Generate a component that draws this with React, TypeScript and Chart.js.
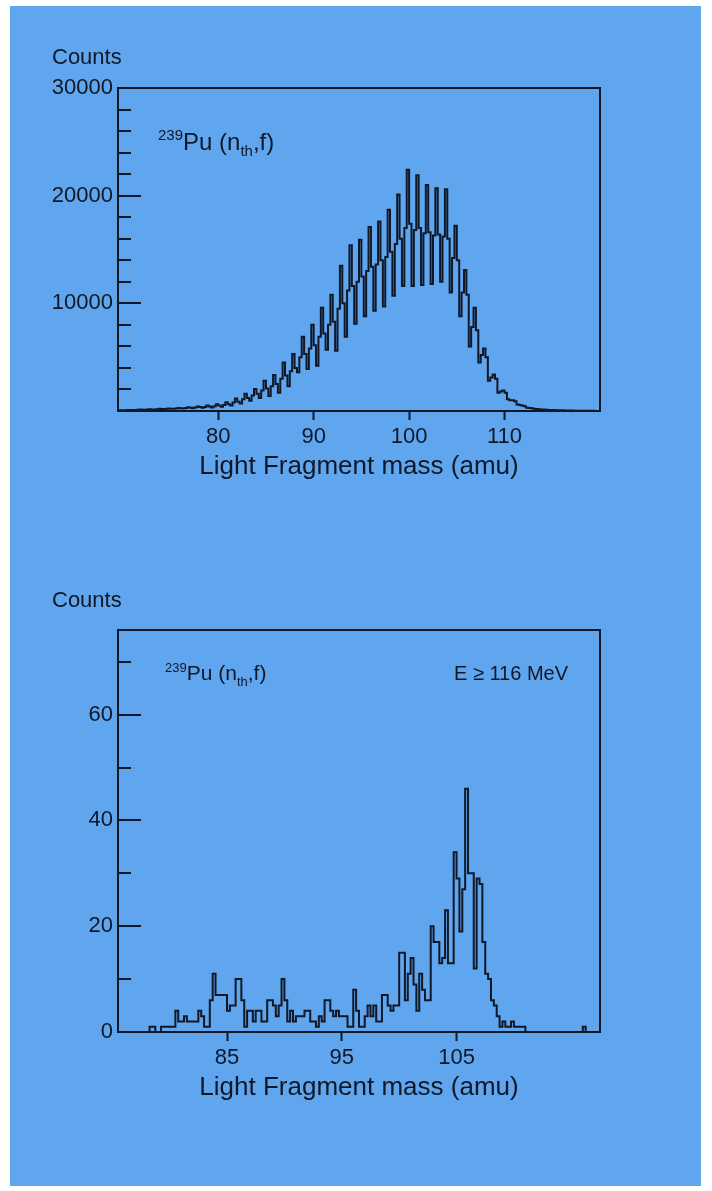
import { useEffect, useRef } from "react";
import { Chart, registerables } from "chart.js";

Chart.register(...registerables);

const FONT_FAMILY = '"Liberation Sans", Arial, Helvetica, sans-serif';
const INK = "#101828";
const PANEL_BLUE = "#5fa6ef";

const MASS_AXIS_TITLE = "Light Fragment mass (amu)";
const COUNTS_LABEL = "Counts";
const ENERGY_CUT_LABEL = "E \u2265 116 MeV";

// ---- Full light-fragment mass yield (0.25 amu bins from 69.5 amu) ----
const YIELD_BIN_START = 69.5;
const YIELD_BIN_WIDTH = 0.25;
const YIELD_COUNTS = [
  // 70–71
  60, 70, 80, 80, 80, 90, 100, 100,
  // 72–73
  100, 110, 130, 120, 120, 140, 160, 150,
  // 74–75
  140, 170, 200, 180, 170, 200, 240, 220,
  // 76–77
  200, 240, 290, 260, 230, 280, 340, 300,
  // 78–79
  260, 330, 420, 360, 300, 380, 500, 420,
  // 80–81
  330, 450, 620, 500, 400, 560, 820, 620,
  // 82–83
  520, 780, 1150, 850, 700, 1100, 1600, 1200,
  // 84–85
  950, 1450, 2050, 1600, 1200, 1900, 2800, 2100,
  // 86–87
  1400, 2300, 3350, 2500, 1700, 3000, 4500, 3300,
  // 88–89
  2300, 3700, 5300, 4000, 3600, 5000, 6900, 5300,
  // 90–91
  3900, 5800, 8000, 6100, 4200, 6900, 9600, 7200,
  // 92–93
  5700, 8000, 10800, 8300, 5600, 9500, 13500, 10000,
  // 94–95
  6900, 11200, 15400, 11600, 8100, 12000, 15900, 12500,
  // 96–97
  8800, 13000, 17100, 13400, 9300, 13600, 17600, 14000,
  // 98–99
  9700, 14300, 18700, 14800, 10700, 15500, 20100, 16000,
  // 100–101
  11600, 17000, 22400, 17400, 11600, 16800, 21900, 17000,
  // 102–103
  11700, 16500, 21000, 16600, 11800, 16300, 20700, 16400,
  // 104–105
  12000, 16200, 20600, 16000, 11000, 14200, 17200, 14000,
  // 106–107
  8800, 11000, 13100, 10800, 6000, 7800, 9600, 7500,
  // 108–109
  4500, 5200, 5800, 5000, 2800, 3100, 3400, 3000,
  // 110–111
  1700, 1800, 1900, 1700, 1100, 1000, 1000, 900,
  // 112–113
  600, 550, 500, 450, 300, 280, 250, 220,
  // 114–115
  180, 160, 150, 130, 110, 100, 100, 90,
  // 116–117
  80, 70, 70, 60, 50, 50, 50, 40,
  // 118–119
  30, 30, 30, 30, 20, 20, 20, 20,
];
const YIELD_X_RANGE = [69.5, 120];
const YIELD_X_TICKS = [80, 90, 100, 110];
const YIELD_Y_RANGE = [0, 30000];
const YIELD_Y_STEP = 2000;
const YIELD_Y_LABEL_EVERY = 10000;

// ---- High kinetic energy events, E >= 116 MeV (0.25 amu bins from 75.5 amu) ----
const HIGH_E_BIN_START = 75.5;
const HIGH_E_BIN_WIDTH = 0.25;
const HIGH_E_COUNTS = [
  // 76–77
  0, 0, 0, 0, 0, 0, 0, 0,
  // 78–79
  0, 0, 0, 0, 1, 1, 0, 0,
  // 80–81
  1, 1, 1, 1, 1, 4, 2, 2,
  // 82–83
  3, 2, 2, 2, 2, 4, 3, 1,
  // 84–85
  1, 6, 11, 7, 7, 7, 7, 4,
  // 86–87
  5, 5, 10, 10, 6, 1, 4, 4,
  // 88–89
  2, 4, 4, 2, 2, 6, 6, 5,
  // 90–91
  3, 5, 10, 6, 2, 4, 2, 3,
  // 92–93
  3, 3, 4, 4, 2, 2, 1, 3,
  // 94–95
  2, 6, 6, 4, 3, 4, 3, 3,
  // 96–97
  3, 1, 1, 8, 4, 1, 1, 3,
  // 98–99
  5, 3, 5, 2, 2, 7, 7, 5,
  // 100–101
  4, 5, 5, 15, 15, 6, 11, 14,
  // 102–103
  9, 4, 11, 8, 6, 6, 20, 17,
  // 104–105
  17, 13, 14, 23, 13, 13, 34, 29,
  // 106–107
  19, 27, 46, 30, 30, 12, 29, 28,
  // 108–109
  17, 11, 10, 6, 5, 3, 1, 2,
  // 110–111
  1, 1, 2, 1, 1, 1, 1, 0,
  // 112–113
  0, 0, 0, 0, 0, 0, 0, 0,
  // 114–115
  0, 0, 0, 0, 0, 0, 0, 0,
  // 116–117
  0, 0, 0, 1, 0, 0, 0, 0,
];
const HIGH_E_X_RANGE = [75.5, 117.5];
const HIGH_E_X_TICKS = [85, 95, 105];
const HIGH_E_Y_RANGE = [0, 76];
const HIGH_E_Y_STEP = 10;
const HIGH_E_Y_LABEL_EVERY = 20;

// Plot frame geometry shared by both panels (page pixels)
const PAGE_WIDTH = 712;
const PLOT_LEFT = 118;
const PLOT_RIGHT = 600;
const STROKE = 2;

type TextRun = { text: string; script?: "sup" | "sub" };
const REACTION_RUNS: TextRun[] = [
  { text: "239", script: "sup" },
  { text: "Pu (n" },
  { text: "th", script: "sub" },
  { text: ",f)" },
];

type FrameOptions = {
  labelEvery: number;
  reactionSize: number;
  scriptSize: number;
  reactionX: number;
  reactionBaseline: number;
  cutLabel?: string;
  cutSize?: number;
  cutRightInset?: number;
  countsBaseline: number;
};

const framePlugin = {
  id: "frame",
  afterDraw(chart: any, _args: any, opts: FrameOptions) {
    const { ctx, chartArea: a, scales } = chart;
    const y = scales.y;
    ctx.save();
    ctx.strokeStyle = INK;
    ctx.lineWidth = STROKE;
    ctx.strokeRect(a.left, a.top, a.right - a.left, a.bottom - a.top);

    // inward ticks on the counts axis: long on labelled values, short between
    for (const t of y.ticks) {
      if (t.value <= y.min || t.value >= y.max) continue;
      const py = Math.round(y.getPixelForValue(t.value));
      const len = t.value % opts.labelEvery === 0 ? 23 : 13;
      ctx.beginPath();
      ctx.moveTo(a.left, py);
      ctx.lineTo(a.left + len, py);
      ctx.stroke();
    }

    ctx.fillStyle = INK;
    ctx.textBaseline = "alphabetic";

    // "Counts" above the axis
    ctx.textAlign = "left";
    ctx.font = `22px ${FONT_FAMILY}`;
    ctx.fillText(COUNTS_LABEL, a.left - 66, a.top + opts.countsBaseline);

    // reaction label with superscript mass number and subscript "th"
    let cx = a.left + opts.reactionX;
    const by = a.top + opts.reactionBaseline;
    for (const run of REACTION_RUNS) {
      const size = run.script ? opts.scriptSize : opts.reactionSize;
      const dy =
        run.script === "sup"
          ? -opts.reactionSize * 0.4
          : run.script === "sub"
          ? opts.reactionSize * 0.27
          : 0;
      ctx.font = `${size}px ${FONT_FAMILY}`;
      ctx.fillText(run.text, cx, by + dy);
      cx += ctx.measureText(run.text).width;
    }

    if (opts.cutLabel) {
      ctx.textAlign = "right";
      ctx.font = `${opts.cutSize}px ${FONT_FAMILY}`;
      ctx.fillText(opts.cutLabel, a.right - (opts.cutRightInset ?? 32), by);
    }
    ctx.restore();
  },
};

type PanelProps = {
  top: number;
  height: number;
  plotTop: number;
  plotBottom: number;
  counts: number[];
  binStart: number;
  binWidth: number;
  xRange: number[];
  xTicks: number[];
  yRange: number[];
  yStep: number;
  yLabelEvery: number;
  showZero: boolean;
  frame: FrameOptions;
};

function HistogramPanel(p: PanelProps) {
  const ref = useRef<HTMLCanvasElement>(null);

  useEffect(() => {
    const canvas = ref.current;
    if (!canvas) return;

    // each bin starts at its lower edge; a closing point ends the last bin
    const points = p.counts.map((c, i) => ({ x: p.binStart + i * p.binWidth, y: c }));
    points.push({
      x: p.binStart + p.counts.length * p.binWidth,
      y: p.counts[p.counts.length - 1],
    });

    const axisHeight = p.height - p.plotBottom;
    const titleSize = 26;
    const titleCenter = 56;

    const chart = new Chart(canvas, {
      type: "line",
      data: {
        datasets: [
          {
            data: points,
            stepped: "after",
            borderColor: INK,
            borderWidth: STROKE,
            pointRadius: 0,
            fill: false,
            tension: 0,
          },
        ],
      },
      options: {
        responsive: false,
        animation: false,
        devicePixelRatio: 1,
        layout: {
          padding: { top: p.plotTop, right: PAGE_WIDTH - PLOT_RIGHT, left: 0, bottom: 0 },
        },
        plugins: {
          legend: { display: false },
          tooltip: { enabled: false },
          frame: p.frame,
        } as any,
        scales: {
          x: {
            type: "linear",
            min: p.xRange[0],
            max: p.xRange[1],
            afterBuildTicks: (s: any) => {
              s.ticks = p.xTicks.map((v) => ({ value: v }));
            },
            afterFit: (s: any) => {
              s.height = axisHeight;
            },
            ticks: {
              autoSkip: false,
              maxRotation: 0,
              padding: 4,
              color: INK,
              font: { family: FONT_FAMILY, size: 22 },
              callback: (v: any) => String(v),
            },
            grid: {
              drawOnChartArea: false,
              drawTicks: true,
              tickLength: 9,
              tickWidth: STROKE,
              tickColor: INK,
            },
            border: { display: false },
            title: {
              display: true,
              text: MASS_AXIS_TITLE,
              color: INK,
              font: { family: FONT_FAMILY, size: titleSize },
              padding: { top: 0, bottom: axisHeight - titleCenter - (titleSize * 1.2) / 2 },
            },
          },
          y: {
            type: "linear",
            min: p.yRange[0],
            max: p.yRange[1],
            afterBuildTicks: (s: any) => {
              s.ticks = s.ticks.filter((t: any) => t.value % p.yStep === 0);
            },
            afterFit: (s: any) => {
              s.width = PLOT_LEFT;
            },
            ticks: {
              stepSize: p.yStep,
              autoSkip: false,
              padding: 5,
              color: INK,
              font: { family: FONT_FAMILY, size: 22 },
              callback: (v: any) =>
                v % p.yLabelEvery === 0 && (v > 0 || p.showZero) ? String(v) : "",
            },
            grid: { display: false, drawTicks: false },
            border: { display: false },
          },
        },
      },
      plugins: [framePlugin],
    });

    return () => chart.destroy();
  }, []);

  return (
    <canvas
      ref={ref}
      width={PAGE_WIDTH}
      height={p.height}
      style={{ position: "absolute", left: 0, top: p.top, width: PAGE_WIDTH, height: p.height }}
    />
  );
}

export default function App() {
  return (
    <div
      style={{
        position: "absolute",
        left: 0,
        top: 0,
        width: PAGE_WIDTH,
        height: 1191,
        background: "#ffffff",
        overflow: "hidden",
      }}
    >
      <div
        style={{
          position: "absolute",
          left: 10,
          top: 6,
          width: 691,
          height: 1180,
          background: PANEL_BLUE,
        }}
      />
      <HistogramPanel
        top={0}
        height={500}
        plotTop={88}
        plotBottom={411}
        counts={YIELD_COUNTS}
        binStart={YIELD_BIN_START}
        binWidth={YIELD_BIN_WIDTH}
        xRange={YIELD_X_RANGE}
        xTicks={YIELD_X_TICKS}
        yRange={YIELD_Y_RANGE}
        yStep={YIELD_Y_STEP}
        yLabelEvery={YIELD_Y_LABEL_EVERY}
        showZero={false}
        frame={{
          labelEvery: YIELD_Y_LABEL_EVERY,
          reactionSize: 24,
          scriptSize: 15,
          reactionX: 40,
          reactionBaseline: 62,
          countsBaseline: -24,
        }}
      />
      <HistogramPanel
        top={540}
        height={590}
        plotTop={90}
        plotBottom={492}
        counts={HIGH_E_COUNTS}
        binStart={HIGH_E_BIN_START}
        binWidth={HIGH_E_BIN_WIDTH}
        xRange={HIGH_E_X_RANGE}
        xTicks={HIGH_E_X_TICKS}
        yRange={HIGH_E_Y_RANGE}
        yStep={HIGH_E_Y_STEP}
        yLabelEvery={HIGH_E_Y_LABEL_EVERY}
        showZero={true}
        frame={{
          labelEvery: HIGH_E_Y_LABEL_EVERY,
          reactionSize: 21,
          scriptSize: 13,
          reactionX: 47,
          reactionBaseline: 50,
          cutLabel: ENERGY_CUT_LABEL,
          cutSize: 20,
          cutRightInset: 32,
          countsBaseline: -23,
        }}
      />
    </div>
  );
}
